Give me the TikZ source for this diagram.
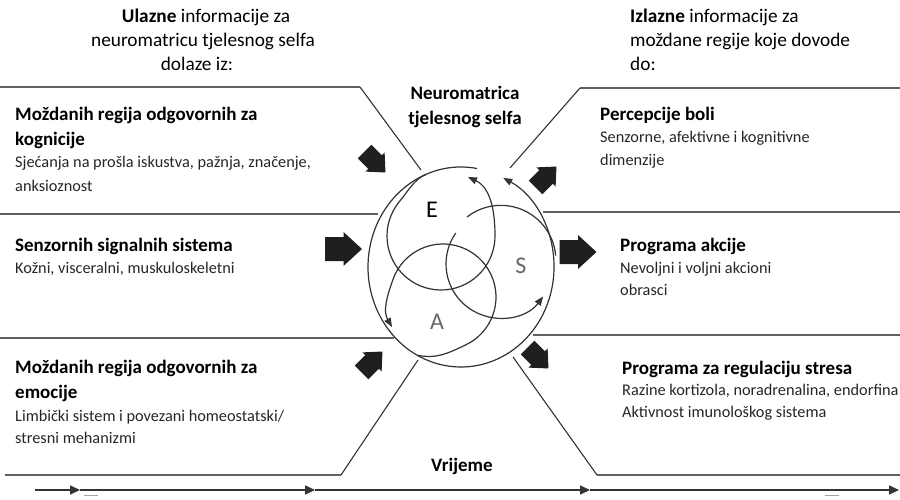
\documentclass[tikz,border=0pt]{standalone}
\usepackage{fontspec}
\setmainfont{Carlito}
\usetikzlibrary{arrows.meta,calc}

\tikzset{
  frame/.style={draw=black!62, line width=1.6pt},
  slant/.style={draw=black!80, line width=1.1pt},
  loopline/.style={draw=black!80, line width=1.2pt},
  looparrow/.style={loopline, -{Triangle[length=9pt,width=7pt]}},
  timeline/.style={draw=black!80, line width=1.6pt, -{Triangle[length=10pt,width=9pt]}},
  head/.style={anchor=base west, inner sep=0pt, font=\fontsize{19}{22}\selectfont\bfseries},
  sub/.style={anchor=base west, inner sep=0pt, font=\fontsize{16.3}{19}\selectfont, text=black!85},
  toptext/.style={inner sep=0pt, font=\fontsize{19.3}{22}\selectfont},
  letter/.style={inner sep=0pt, font=\fontsize{24}{26}\selectfont},
  blockarrow/.pic={\fill[black!88] (-18.5,-12) -- (0,-12) -- (0,-17) -- (18.5,0)
                   -- (0,17) -- (0,12) -- (-18.5,12) -- cycle;}
}

\begin{document}
\begin{tikzpicture}[x=1pt,y=1pt]
\useasboundingbox (0,0) rectangle (900,499);

% ---- frame lines of the six boxes ----
\coordinate (l1a) at (0,412);  \coordinate (l1b) at (360,412); \coordinate (l1c) at (421,329);
\coordinate (l2a) at (0,285);  \coordinate (l2b) at (378,285);
\coordinate (l3a) at (0,161);  \coordinate (l3b) at (394,161);
\coordinate (l4a) at (5,24);   \coordinate (l4b) at (341,24);  \coordinate (l4c) at (418,139);
\coordinate (r1a) at (900,411); \coordinate (r1b) at (580,411); \coordinate (r1c) at (510,331);
\coordinate (r2a) at (900,287); \coordinate (r2b) at (543,287);
\coordinate (r3a) at (900,164); \coordinate (r3b) at (533,164);
\coordinate (r4a) at (900,24); \coordinate (r4b) at (597,24);  \coordinate (r4c) at (513,142);

\draw[frame] (l1a) -- (l1b);  \draw[slant] (l1b) -- (l1c);
\draw[frame] (l2a) -- (l2b);
\draw[frame] (l3a) -- (l3b);
\draw[frame] (l4a) -- (l4b);  \draw[slant] (l4b) -- (l4c);
\draw[frame] (r1a) -- (r1b);  \draw[slant] (r1b) -- (r1c);
\draw[frame] (r2a) -- (r2b);
\draw[frame] (r3a) -- (r3b);
\draw[frame] (r4a) -- (r4b);  \draw[slant] (r4b) -- (r4c);

% ---- neuromatrix: outer loop and the three inner loops ----
\coordinate (O) at (461,232);
\coordinate (Ec) at (441,263);
\coordinate (Sc) at (500,235);
\coordinate (Ac) at (443,202);

\draw[looparrow] ($(O)+(80:93 and 100)$) arc[start angle=80, end angle=423, x radius=93, y radius=100];

% E loop
\draw[looparrow] ($(O)+(112:93 and 100)$) .. controls +(-12,-5) and +(8.3,10) .. ($(Ec)+(140:54)$)
   arc[start angle=140, end angle=360, radius=54]
   .. controls (495,288) and (490.6,311.4) .. (468,322);

% S loop
\draw[looparrow] ($(Sc)+(145:54)$) arc[start angle=145, end angle=323, radius=54];
\draw[loopline] (467,282) arc[start angle=128, end angle=5, radius=55];

% A loop
\draw[looparrow] ($(O)+(242:93 and 100)$) .. controls (437,140) and (447.4,145.5) .. ($(Ac)+(295:53)$)
   arc[start angle=295, end angle=520, radius=53]
   .. controls (386.4,201.3) and (383,187.6) .. (392,172);

\node[letter] (lE) at (432,289) {E};
\node[letter, text=black!60] (lS) at (521,233) {S};
\node[letter, text=black!60] (lA) at (437,177) {A};

% ---- block arrows into and out of the neuromatrix ----
\pic[rotate=-45, scale=0.8] at (375,337) {blockarrow};
\pic at (343.5,250) {blockarrow};
\pic[rotate=45, scale=0.8] at (372,137) {blockarrow};
\pic[rotate=45, scale=0.8] at (546,322) {blockarrow};
\pic at (578,247) {blockarrow};
\pic[rotate=-45, scale=0.8] at (538,141) {blockarrow};

% ---- headers ----
\node[toptext, anchor=base] (inh1) at (206,476) {\textbf{Ulazne} informacije za};
\node[toptext, anchor=base] (inh2) at (203,452) {neuromatricu tjelesnog selfa};
\node[toptext, anchor=base] (inh3) at (197,428) {dolaze iz:};
\node[toptext, anchor=base west] (outh1) at (630,476) {\textbf{Izlazne} informacije za};
\node[toptext, anchor=base west] (outh2) at (630,452) {moždane regije koje dovode};
\node[toptext, anchor=base west] (outh3) at (630,428) {do:};

\node[head, anchor=base] (nm1) at (465,399) {Neuromatrica};
\node[head, anchor=base] (nm2) at (465,374) {tjelesnog selfa};

% ---- input boxes ----
\node[head] (in1a) at (15,378) {Moždanih regija odgovornih za};
\node[head] (in1b) at (15,353) {kognicije};
\node[sub]  (in1c) at (15,331) {Sjećanja na prošla iskustva, pažnja, značenje,};
\node[sub]  (in1d) at (15,308) {anksioznost};

\node[head] (in2a) at (15,248) {Senzornih signalnih sistema};
\node[sub]  (in2b) at (15,226) {Kožni, visceralni, muskuloskeletni};

\node[head] (in3a) at (15,126) {Moždanih regija odgovornih za};
\node[head] (in3b) at (15,101) {emocije};
\node[sub]  (in3c) at (15,78)  {Limbički sistem i povezani homeostatski/};
\node[sub]  (in3d) at (15,56)  {stresni mehanizmi};

% ---- output boxes ----
\node[head] (out1a) at (600,378) {Percepcije boli};
\node[sub]  (out1b) at (600,356) {Senzorne, afektivne i kognitivne};
\node[sub]  (out1c) at (600,334) {dimenzije};

\node[head] (out2a) at (620,248) {Programa akcije};
\node[sub]  (out2b) at (620,226) {Nevoljni i voljni akcioni};
\node[sub]  (out2c) at (620,204) {obrasci};

\node[head] (out3a) at (622,125) {Programa za regulaciju stresa};
\node[sub]  (out3b) at (622,104) {Razine kortizola, noradrenalina, endorfina};
\node[sub]  (out3c) at (622,82)  {Aktivnost imunološkog sistema};

% ---- time axis ----
\node[head, anchor=base] (time) at (462,28) {Vrijeme};
\coordinate (t0) at (35,9);
\coordinate (t1) at (80,9);
\coordinate (t2) at (315,9);
\coordinate (t3) at (590,9);
\coordinate (t4) at (899,9);
\draw[timeline] (t0) -- (t1);
\draw[timeline] (t1) -- (t2);
\draw[timeline] (t2) -- (t3);
\draw[timeline] (t3) -- (t4);
\draw[black!35, line width=0.8pt] (84,4) -- (98,4);
\draw[black!35, line width=0.8pt] (825,4) -- (839,4);
\end{tikzpicture}
\end{document}
